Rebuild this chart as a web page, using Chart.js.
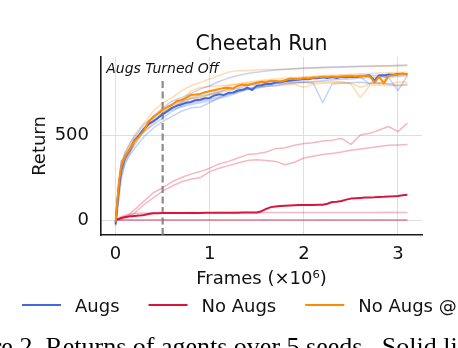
<!DOCTYPE html>
<html>
<head>
<meta charset="utf-8">
<script src="https://cdn.jsdelivr.net/npm/chart.js@4.4.1/dist/chart.umd.min.js"></script>
<style>
  html, body { margin: 0; padding: 0; background: #fff; overflow: hidden; }
  #wrap { width: 458px; height: 348px; }
</style>
</head>
<body>
<div id="wrap"><canvas id="chart" width="458" height="348"></canvas></div>
<script>
// x values (millions of frames) for the mean curves
const framesFine = [0, 0.02, 0.04, 0.06, 0.08, 0.1, 0.125, 0.15, 0.175, 0.2,
  0.25, 0.3, 0.35, 0.4, 0.45, 0.5, 0.55, 0.6, 0.65, 0.7,
  0.75, 0.8, 0.85, 0.9, 0.95, 1.0, 1.05, 1.1, 1.15, 1.2,
  1.25, 1.3, 1.35, 1.4, 1.45, 1.5, 1.55, 1.6, 1.65, 1.7,
  1.75, 1.8, 1.85, 1.9, 1.95, 2.0, 2.05, 2.1, 2.15, 2.2,
  2.25, 2.3, 2.35, 2.4, 2.45, 2.5, 2.55, 2.6, 2.65, 2.7,
  2.75, 2.8, 2.85, 2.9, 2.95, 3.0, 3.05, 3.1];

const augsMean = [-25, 110, 215, 290, 330, 365, 390, 410, 440, 468,
  500, 535, 565, 580, 600, 622, 640, 660, 672, 680,
  690, 694, 705, 708, 716, 718, 733, 740, 736, 748,
  750, 762, 766, 778, 765, 790, 793, 802, 800, 810,
  810, 818, 820, 823, 825, 830, 828, 835, 834, 840,
  835, 841, 836, 842, 840, 843, 841, 846, 849, 851,
  820, 852, 851, 856, 855, 859, 860, 857];

const noAugsMean = [0, 5, 8, 12, 15, 18, 20, 22, 23, 24,
  26, 30, 36, 40, 40, 41, 41, 41, 42, 42,
  42, 42, 42, 42, 43, 43, 43, 43, 43, 43,
  43, 43, 44, 44, 44, 44, 52, 66, 76, 80,
  82, 84, 86, 87, 88, 88, 89, 89, 90, 90,
  96, 106, 108, 112, 120, 126, 128, 130, 132, 133,
  134, 136, 137, 139, 140, 142, 146, 149];

const noAugsAtMean = [-10, 120, 240, 310, 345, 372, 395, 415, 440, 465,
  490, 525, 580, 605, 625, 648, 665, 678, 700, 706,
  720, 735, 738, 742, 752, 758, 763, 770, 776, 778,
  774, 790, 796, 793, 801, 808, 814, 811, 820, 818,
  815, 822, 832, 830, 828, 835, 833, 838, 840, 843,
  841, 845, 842, 844, 846, 847, 845, 849, 847, 846,
  808, 843, 804, 848, 852, 856, 861, 858];

// x values for the individual seeds
const framesSeed = [0, 0.03, 0.06, 0.1, 0.15, 0.2,
  0.3, 0.4, 0.5, 0.6, 0.7, 0.8, 0.9, 1.0, 1.1, 1.2,
  1.3, 1.4, 1.5, 1.6, 1.7, 1.8, 1.9, 2.0, 2.1, 2.2,
  2.3, 2.4, 2.5, 2.6, 2.7, 2.8, 2.9, 3.0, 3.1];

const augsSeeds = [
  [-20, 200, 330, 400, 450, 490,
   560, 610, 660, 700, 720, 745, 770, 790, 815, 835,
   850, 862, 870, 876, 882, 886, 890, 894, 896, 898,
   900, 902, 903, 905, 906, 908, 908, 910, 912],
  [-30, 150, 260, 330, 380, 420,
   490, 540, 580, 610, 640, 660, 665, 690, 720, 740,
   760, 770, 785, 790, 800, 805, 810, 812, 805, 690,
   800, 805, 808, 810, 805, 806, 800, 790, 795],
  [-25, 120, 300, 380, 420, 470,
   520, 560, 600, 640, 670, 690, 700, 710, 725, 740,
   755, 770, 780, 795, 805, 815, 825, 830, 835, 838,
   842, 845, 848, 845, 850, 852, 838, 762, 848],
  [-35, 180, 350, 360, 400, 440,
   530, 590, 630, 660, 690, 715, 730, 740, 755, 770,
   775, 790, 800, 810, 812, 820, 826, 830, 832, 835,
   838, 840, 838, 842, 800, 845, 850, 855, 858],
  [-20, 100, 240, 340, 390, 460,
   540, 580, 620, 650, 665, 680, 690, 700, 715, 730,
   750, 768, 775, 785, 790, 800, 805, 810, 815, 820,
   825, 828, 830, 835, 838, 840, 842, 845, 848]
];

const noAugsSeeds = [
  [0, 5, 10, 20, 35, 60,
   110, 160, 190, 225, 250, 270, 285, 305, 330, 345,
   365, 385, 390, 400, 420, 425, 440, 450, 455, 465,
   470, 480, 445, 500, 510, 530, 550, 520, 570],
  [0, 0, 5, 10, 20, 40,
   90, 130, 170, 200, 225, 240, 250, 285, 305, 320,
   335, 350, 355, 350, 345, 325, 340, 365, 375, 385,
   392, 400, 410, 418, 425, 432, 440, 442, 445],
  [0, 10, 20, 28, 34, 38,
   42, 43, 43, 42, 43, 44, 43, 43, 44, 43,
   44, 44, 43, 44, 44, 45, 44, 44, 45, 44,
   45, 45, 44, 45, 45, 45, 46, 45, 45],
  [0, 0, 0, 0, 0, 0,
   0, 0, 0, 0, 0, 0, 0, 0, 0, 0,
   0, 0, 0, 0, 0, 0, 0, 0, 0, 0,
   0, 0, 0, 0, 0, 0, 0, 0, 0],
  [0, 1, 0, 0, 1, 0,
   0, 0, 1, 0, 0, 0, 0, 1, 0, 0,
   0, 0, 0, 1, 0, 0, 0, 0, 0, 1,
   0, 0, 0, 0, 0, 1, 0, 0, 0]
];

const noAugsAtSeeds = [
  [-10, 220, 340, 390, 440, 500,
   570, 640, 690, 720, 760, 790, 810, 830, 850, 870,
   878, 880, 882, 885, 886, 888, 890, 892, 894, 895,
   897, 898, 900, 902, 903, 904, 905, 906, 908],
  [-15, 150, 300, 360, 400, 450,
   530, 580, 620, 660, 690, 760, 780, 785, 790, 795,
   800, 805, 790, 800, 805, 810, 812, 808, 810, 812,
   815, 812, 800, 720, 790, 795, 790, 795, 800],
  [-5, 180, 320, 380, 430, 470,
   520, 570, 630, 670, 700, 720, 740, 760, 775, 790,
   800, 810, 818, 825, 830, 835, 838, 840, 842, 845,
   846, 848, 850, 852, 850, 800, 852, 855, 858],
  [-20, 120, 280, 350, 410, 460,
   540, 600, 650, 680, 700, 715, 720, 740, 755, 770,
   790, 800, 812, 820, 815, 825, 835, 840, 845, 850,
   852, 855, 858, 860, 862, 865, 866, 868, 870],
  [-10, 200, 310, 370, 420, 480,
   540, 610, 640, 660, 680, 700, 720, 735, 750, 760,
   770, 775, 780, 785, 790, 795, 800, 780, 800, 805,
   808, 810, 805, 780, 800, 805, 800, 810, 812]
];

const seriesLabels = ['Augs', 'No Augs', 'No Augs @ 500K'];
const xTicks = [0, 1, 2, 3];
const yTicks = [0, 500];
const xRange = [-0.155, 3.255];
const yRange = [-88, 959];
const augsOffFrame = 0.5;
const augsOffTop = 820;
const annotText = 'Augs Turned Off';
const annotAt = [-0.1, 865];
const titleText = 'Cheetah Run';
const captionText = 'Figure 2. Returns of agents over 5 seeds.  Solid lines show the mean return.';

const BLUE = '#4169e1', RED = '#dc143c', ORANGE = '#ff8c00';
const colors = [BLUE, RED, ORANGE];
const FONT = '"DejaVu Sans", sans-serif';

function pts(xs, ys) {
  return xs.map((x, i) => ({x: x, y: ys[i]}));
}

function faint(hex) {
  return hex + '4d';
}

const datasets = [
  {label: seriesLabels[2], data: pts(framesFine, noAugsAtMean), borderColor: ORANGE, borderWidth: 2, order: 0},
  {label: seriesLabels[0], data: pts(framesFine, augsMean), borderColor: BLUE, borderWidth: 2, order: 1},
  {label: seriesLabels[1], data: pts(framesFine, noAugsMean), borderColor: RED, borderWidth: 2, order: 2},
  {label: 'augs off', data: [{x: augsOffFrame, y: yRange[0]}, {x: augsOffFrame, y: augsOffTop}],
   borderColor: 'rgba(120,120,120,0.85)', borderWidth: 2.2, borderDash: [7, 3.5], order: 3}
];
[augsSeeds, noAugsSeeds, noAugsAtSeeds].forEach((group, g) => {
  group.forEach((seed) => {
    datasets.push({data: pts(framesSeed, seed), borderColor: faint(colors[g]), borderWidth: 1.5, order: 4});
  });
});

// title, annotation, legend and caption drawn on top
const decorations = {
  id: 'decorations',
  afterDraw(chart) {
    const {ctx, chartArea, scales} = chart;
    ctx.save();
    ctx.fillStyle = '#111';
    ctx.textBaseline = 'alphabetic';

    ctx.font = '20.5px ' + FONT;
    ctx.textAlign = 'center';
    ctx.fillText(titleText, (chartArea.left + chartArea.right) / 2, 50);

    ctx.font = 'italic 14px ' + FONT;
    ctx.textAlign = 'left';
    ctx.fillText(annotText, scales.x.getPixelForValue(annotAt[0]), scales.y.getPixelForValue(annotAt[1]));

    // legend below the axes, runs off the right edge
    ctx.font = '18px ' + FONT;
    let x = 22;
    const ly = 305;
    seriesLabels.forEach((lab, i) => {
      ctx.strokeStyle = colors[i];
      ctx.lineWidth = 2;
      ctx.beginPath();
      ctx.moveTo(x, ly);
      ctx.lineTo(x + 39, ly);
      ctx.stroke();
      ctx.fillStyle = '#111';
      ctx.fillText(lab, x + 53, ly + 7);
      x += 53 + ctx.measureText(lab).width + 29;
    });

    ctx.font = '26px "Liberation Serif", serif';
    ctx.fillStyle = '#000';
    ctx.fillText(captionText, -55, 355);
    ctx.restore();
  }
};

new Chart(document.getElementById('chart'), {
  type: 'line',
  data: {datasets: datasets},
  options: {
    responsive: false,
    devicePixelRatio: 1,
    animation: false,
    layout: {padding: {top: 57, left: 0, right: 36, bottom: 0}},
    plugins: {legend: {display: false}, title: {display: false}, tooltip: {enabled: false}},
    elements: {point: {radius: 0}, line: {tension: 0, borderJoinStyle: 'round'}},
    scales: {
      x: {
        type: 'linear', min: xRange[0], max: xRange[1],
        afterBuildTicks: (s) => { s.ticks = xTicks.map(v => ({value: v})); },
        afterFit: (s) => { s.height = 113; },
        grid: {color: '#dedede', lineWidth: 1, drawTicks: false},
        border: {display: true, color: '#1a1a1a', width: 1.6},
        ticks: {color: '#111', font: {family: FONT, size: 18}, padding: 9, maxRotation: 0},
        title: {display: true, text: 'Frames (×10⁶)', color: '#111', font: {family: FONT, size: 18},
                padding: {top: 0, bottom: 58}}
      },
      y: {
        type: 'linear', min: yRange[0], max: yRange[1],
        afterBuildTicks: (s) => { s.ticks = yTicks.map(v => ({value: v})); },
        afterFit: (s) => { s.width = 101; },
        grid: {color: '#dedede', lineWidth: 1, drawTicks: false},
        border: {display: true, color: '#1a1a1a', width: 1.6},
        ticks: {color: '#111', font: {family: FONT, size: 18}, padding: 12},
        title: {display: true, text: 'Return', color: '#111', font: {family: FONT, size: 18},
                padding: {top: 30, bottom: 0}}
      }
    }
  },
  plugins: [decorations]
});
</script>
</body>
</html>
